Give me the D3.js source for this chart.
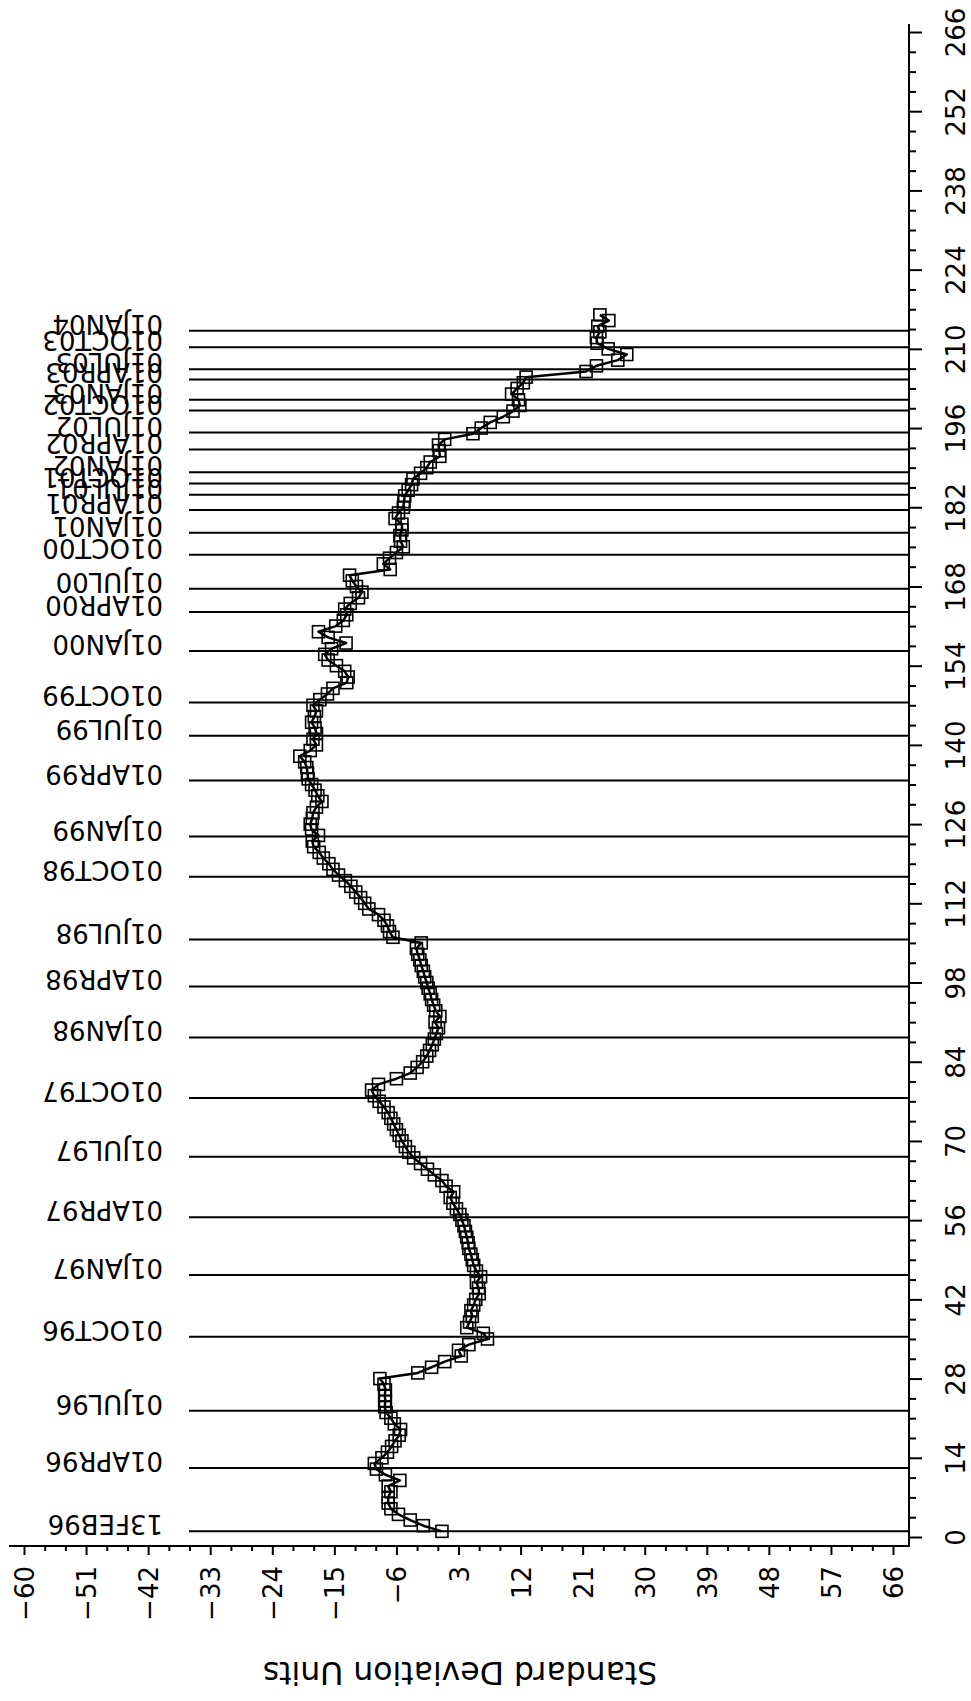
<!DOCTYPE html>
<html>
<head>
<meta charset="utf-8">
<script src="https://cdn.jsdelivr.net/npm/d3@7"></script>
<style>
  html, body { margin: 0; padding: 0; background: #fff; }
  svg text { font-family: "DejaVu Sans", "Liberation Sans", Arial, sans-serif; fill: #000; }
</style>
</head>
<body>
<svg id="chart" width="971" height="1701"></svg>
<script>
// observation index of each point (1..216) and its value in sd units
const values = [
  0.6, -2.1, -4.0, -5.7, -6.8, -7.2, -7.2, -6.8, -7.2, -5.5,
  -7.6, -8.9, -9.2, -8.1, -7.3, -6.7, -6.2, -5.6, -5.4, -6.3,
  -6.8, -7.5, -7.7, -7.6, -7.7, -7.6, -7.8, -8.4, -2.9, -0.9,
  1.0, 3.4, 3.0, 4.5, 7.2, 6.6, 4.2, 4.6, 5.0, 4.8,
  5.2, 5.5, 6.0, 5.9, 5.6, 6.2, 5.6, 5.2, 5.0, 4.8,
  4.5, 4.4, 4.2, 4.0, 3.8, 3.5, 3.2, 2.7, 2.2, 1.8,
  2.3, 1.2, 0.6, -0.5, -1.5, -2.5, -3.5, -4.2, -4.7, -5.2,
  -5.6, -6.0, -6.4, -6.8, -7.2, -7.8, -8.5, -9.2, -9.6, -8.6,
  -6.0, -4.0, -3.0, -2.2, -1.6, -1.2, -0.8, -0.5, -0.2, 0.1,
  -0.4, 0.3, -0.3, -0.6, -0.9, -1.1, -1.4, -1.6, -1.9, -2.1,
  -2.4, -2.6, -2.9, -3.1, -2.4, -6.5, -7.0, -7.3, -7.8, -8.6,
  -10.0, -10.6, -11.2, -11.9, -12.6, -13.4, -14.4, -15.2, -15.8, -16.6,
  -17.2, -18.0, -18.2, -17.3, -18.3, -18.5, -18.2, -18.1, -17.6, -16.8,
  -17.4, -17.8, -18.3, -18.8, -18.9, -19.0, -19.3, -20.0, -18.5, -17.6,
  -18.1, -17.6, -17.8, -18.3, -17.9, -17.6, -18.1, -17.1, -16.0, -15.2,
  -13.2, -13.0, -13.5, -14.7, -15.9, -16.4, -15.4, -13.3, -15.9, -17.3,
  -14.8, -13.7, -13.2, -13.5, -12.7, -11.5, -11.0, -11.8, -12.4, -12.8,
  -6.9, -7.9, -7.0, -6.0, -5.0, -5.4, -5.5, -5.2, -5.2, -6.2,
  -5.7, -5.0, -4.9, -4.8, -4.3, -3.8, -3.6, -2.5, -1.6, -1.1,
  0.3, 0.2, 0.1, 1.0, 5.1, 6.3, 7.6, 9.5, 10.9, 11.9,
  11.7, 10.7, 11.5, 12.4, 12.8, 21.5, 23.0, 26.1, 27.4, 24.7,
  23.1, 23.0, 23.5, 23.2, 24.8, 23.5
];

const dateLabels = [
  "13FEB96", "01APR96", "01JUL96", "01OCT96", "01JAN97", "01APR97", "01JUL97",
  "01OCT97", "01JAN98", "01APR98", "01JUL98", "01OCT98", "01JAN99", "01APR99",
  "01JUL99", "01OCT99", "01JAN00", "01APR00", "01JUL00", "01OCT00", "01JAN01",
  "01APR01", "01JUL01", "01OCT01", "01JAN02", "01APR02", "01JUL02", "01OCT02",
  "01JAN03", "01APR03", "01JUL03", "01OCT03", "01JAN04"
];
const dateIndex = [
  1, 12.2, 22.3, 35.4, 46.3, 56.5, 67.2,
  77.6, 88.3, 97.3, 105.6, 116.7, 123.8, 133.7,
  141.6, 147.5, 156.6, 163.5, 167.6, 173.6, 177.5,
  181.5, 184.2, 186.2, 188.2, 192.2, 195.2, 199.1,
  201.0, 204.6, 206.4, 210.3, 213.2
];

const sdTicks = d3.range(-60, 67, 9);
const sdMinor = d3.range(-60, 67, 3).filter((d) => !sdTicks.includes(d));
const obsTicks = d3.range(0, 267, 14);
const obsMinor = d3.range(0, 266, 3.5).filter((d) => d % 14 !== 0);

const svg = d3.select("#chart");

// chart is drawn turned a quarter: sd units run left to right, observations bottom to top
const x = d3.scaleLinear().domain([-60, 66]).range([24, 893]);
const y = d3.scaleLinear().domain([0, 266]).range([1537, 32]);

const AXIS_Y = 1546;
const AXIS_X = 909;
const FONT = 26;

// reference lines
const refs = svg.append("g").attr("class", "refs");
dateIndex.forEach((d, i) => {
  const ly = y(d);
  refs.append("line")
    .attr("x1", 189).attr("x2", AXIS_X)
    .attr("y1", ly).attr("y2", ly)
    .attr("stroke", "#000").attr("stroke-width", 2);
  refs.append("text")
    .attr("transform", `translate(163,${ly - 16}) rotate(180)`)
    .attr("font-size", FONT)
    .text(dateLabels[i]);
});

// bottom axis (sd units)
const gx = svg.append("g").attr("transform", `translate(0,${AXIS_Y})`);
gx.append("g")
  .call(d3.axisBottom(x).tickValues(sdMinor).tickSize(5).tickFormat(""))
  .call((g) => g.select(".domain").remove())
  .selectAll("line").attr("stroke-width", 2);
gx.append("g")
  .call(d3.axisBottom(x).tickValues(sdTicks).tickSize(9).tickFormat((d) => (d < 0 ? "\u2212" + Math.abs(d) : d)))
  .call((g) => g.select(".domain").remove())
  .call((g) => g.selectAll("line").attr("stroke-width", 2))
  .call((g) =>
    g.selectAll("text")
      .attr("transform", "rotate(-90)")
      .attr("x", -20)
      .attr("y", 9.5)
      .attr("dy", null)
      .attr("text-anchor", "end")
      .attr("font-size", FONT)
      .attr("font-family", null)
  );
gx.append("line")
  .attr("x1", 9).attr("x2", AXIS_X + 1)
  .attr("stroke", "#000").attr("stroke-width", 2);

// right axis (observation number)
const gy = svg.append("g").attr("transform", `translate(${AXIS_X},0)`);
gy.append("g")
  .call(d3.axisRight(y).tickValues(obsMinor).tickSize(7).tickFormat(""))
  .call((g) => g.select(".domain").remove())
  .selectAll("line").attr("stroke-width", 2);
gy.append("g")
  .call(d3.axisRight(y).tickValues(obsTicks).tickSize(13))
  .call((g) => g.select(".domain").remove())
  .call((g) => g.selectAll("line").attr("stroke-width", 2))
  .call((g) =>
    g.selectAll("text")
      .attr("transform", "rotate(-90)")
      .attr("x", 0)
      .attr("y", 56)
      .attr("dy", null)
      .attr("text-anchor", "middle")
      .attr("font-size", FONT)
      .attr("font-family", null)
  );
gy.append("line")
  .attr("y1", 24).attr("y2", AXIS_Y + 1)
  .attr("stroke", "#000").attr("stroke-width", 2);

// axis title, upside down like the rest of the turned chart
svg.append("text")
  .attr("transform", "translate(460,1662) rotate(180)")
  .attr("text-anchor", "middle")
  .attr("font-size", 31.5)
  .text("Standard Deviation Units");

// series
const pts = values.map((v, i) => [i + 1, v]);
const line = d3.line().x((d) => x(d[1])).y((d) => y(d[0]));
svg.append("path")
  .datum(pts)
  .attr("d", line)
  .attr("fill", "none")
  .attr("stroke", "#000")
  .attr("stroke-width", 2.5)
  .attr("stroke-linejoin", "round");

const S = 12;
svg.append("g").selectAll("rect")
  .data(pts)
  .join("rect")
  .attr("x", (d) => x(d[1]) - S / 2)
  .attr("y", (d) => y(d[0]) - S / 2)
  .attr("width", S).attr("height", S)
  .attr("fill", "none")
  .attr("stroke", "#000")
  .attr("stroke-width", 1.6);
</script>
</body>
</html>
